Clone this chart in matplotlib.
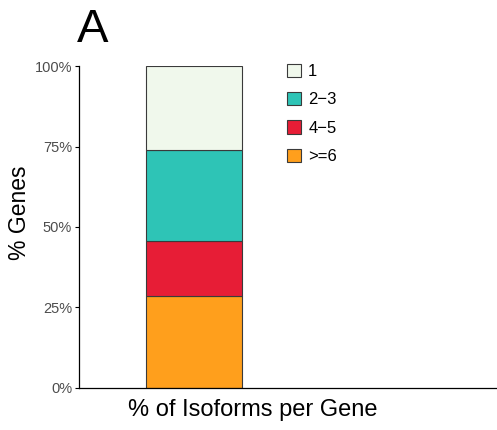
import matplotlib
matplotlib.use("Agg")
import matplotlib.pyplot as plt
from matplotlib.patches import Patch
from matplotlib.ticker import FuncFormatter

plt.rcParams['font.family'] = ['Liberation Sans', 'DejaVu Sans']

# data (percent of genes, bottom to top)
groups = ['>=6', '4\u22125', '2\u22123', '1']
values = [28.6, 17.1, 28.2, 26.1]
colors = ['#FF9F1C', '#E71D36', '#2EC4B6', '#F0F8EC']

fig = plt.figure(figsize=(4.97, 4.30), dpi=100)
ax = fig.add_axes([0.159, 0.0977, 0.841, 0.7488])

bottom = 0
for g, v, c in zip(groups, values, colors):
    ax.bar(0, v, width=1, bottom=bottom, color=c, edgecolor='#3a3a3a', linewidth=0.8, label=g)
    bottom += v

ax.set_xlim(-1.198, 3.156)
ax.set_ylim(0, 100)
ax.set_yticks([0, 25, 50, 75, 100])
ax.yaxis.set_major_formatter(FuncFormatter(lambda y, p: f'{int(y)}%'))
ax.tick_params(axis='y', labelsize=10.5, labelcolor='#4d4d4d', length=3, width=0.8, pad=2)
ax.set_xticks([])
for s in ['top', 'right']:
    ax.spines[s].set_visible(False)
ax.spines['left'].set_linewidth(0.9)
ax.spines['bottom'].set_linewidth(0.9)

# axis titles, centred on the figure like the original
fig.text(253 / 497, 1 - 410 / 430, '% of Isoforms per Gene', fontsize=17, ha='center', va='center')
fig.text(20 / 497, 1 - 213 / 430, '% Genes', fontsize=16.5, ha='center', va='center', rotation=90)

fig.text(0.155, 1 - 42 / 430, 'A', fontsize=34, ha='left', va='baseline')

handles = [Patch(facecolor=c, edgecolor='#3a3a3a', linewidth=0.8) for c in colors[::-1]]
fig.legend(handles, groups[::-1], loc='upper left', bbox_to_anchor=(280 / 497, 1 - 57 / 430),
           frameon=False, fontsize=12, handlelength=0.84, handleheight=0.84,
           labelspacing=0.78, handletextpad=0.45, borderaxespad=0)

fig.savefig('out.png', dpi=100)
